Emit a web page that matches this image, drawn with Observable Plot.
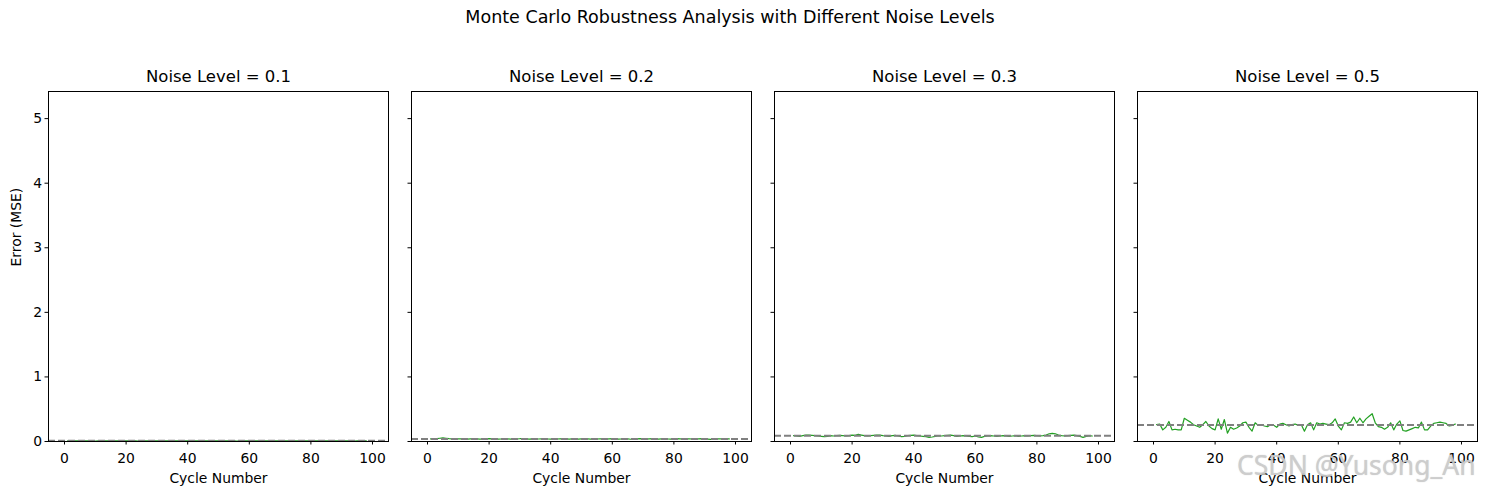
<!DOCTYPE html>
<html><head><meta charset="utf-8">
<script src="https://cdn.jsdelivr.net/npm/d3@7"></script>
<script src="https://cdn.jsdelivr.net/npm/@observablehq/plot@0.6"></script>
<style>
body{margin:0;background:#fff;font-family:"DejaVu Sans",sans-serif;}
#wrap{position:relative;width:1486px;height:495px;overflow:hidden;background:#fff;}
#sup{position:absolute;top:7px;left:0;width:1460px;text-align:center;font-size:17.5px;color:#000;}
.panel{position:absolute;top:0;}
#wm{position:absolute;left:1237px;top:452px;font-family:"Noto Sans",sans-serif;font-size:26.5px;line-height:1;color:rgba(205,205,205,0.9);text-shadow:0 0 1px rgba(150,150,150,0.5);white-space:nowrap;}
</style>
</head><body>
<div id="wrap"><div id="sup">Monte Carlo Robustness Analysis with Different Noise Levels</div></div>
<script>
const noiseLevels = ["0.1", "0.2", "0.3", "0.5"];
const cycles = [1,2,3,4,5,6,7,8,9,10,11,12,13,14,15,16,17,18,19,20,21,22,23,24,25,26,27,28,29,30,31,32,33,34,35,36,37,38,39,40,41,42,43,44,45,46,47,48,49,50,51,52,53,54,55,56,57,58,59,60,61,62,63,64,65,66,67,68,69,70,71,72,73,74,75,76,77,78,79,80,81,82,83,84,85,86,87,88,89,90,91,92,93,94,95,96,97,98];
const xTicks = [0, 20, 40, 60, 80, 100];
const yTicks = [0, 1, 2, 3, 4, 5];
const errNoise01 = [
0.010,0.011,0.009,0.010,0.012,0.010,0.009,0.011,0.010,0.008,
0.010,0.011,0.010,0.009,0.010,0.012,0.011,0.010,0.009,0.010,
0.011,0.010,0.009,0.008,0.010,0.011,0.010,0.012,0.010,0.009,
0.010,0.011,0.009,0.010,0.010,0.011,0.012,0.010,0.009,0.010,
0.008,0.010,0.011,0.010,0.009,0.010,0.011,0.010,0.012,0.010,
0.009,0.010,0.011,0.010,0.009,0.008,0.010,0.011,0.010,0.010,
0.012,0.011,0.009,0.010,0.010,0.011,0.010,0.009,0.010,0.011,
0.012,0.010,0.009,0.010,0.011,0.010,0.008,0.010,0.011,0.010,
0.009,0.010,0.012,0.011,0.010,0.009,0.010,0.011,0.010,0.009,
0.010,0.011,0.010,0.008,0.010,0.011,0.010,0.010];
const errNoise02 = [
0.040,0.042,0.045,0.050,0.055,0.050,0.044,0.040,0.038,0.040,
0.042,0.040,0.038,0.041,0.043,0.040,0.037,0.039,0.042,0.044,
0.041,0.038,0.036,0.039,0.042,0.040,0.037,0.035,0.039,0.043,
0.045,0.041,0.038,0.040,0.037,0.039,0.042,0.044,0.040,0.038,
0.036,0.039,0.041,0.043,0.040,0.038,0.041,0.039,0.037,0.040,
0.043,0.041,0.038,0.036,0.039,0.042,0.040,0.038,0.041,0.044,
0.040,0.037,0.039,0.042,0.040,0.035,0.038,0.041,0.043,0.040,
0.038,0.041,0.043,0.039,0.037,0.040,0.042,0.039,0.036,0.040,
0.043,0.041,0.038,0.040,0.042,0.039,0.037,0.041,0.043,0.039,
0.036,0.034,0.038,0.041,0.040,0.039,0.042,0.040];
const errNoise03 = [
0.09,0.085,0.08,0.09,0.10,0.10,0.095,0.09,0.085,0.08,
0.075,0.08,0.09,0.085,0.09,0.095,0.09,0.085,0.09,0.10,
0.095,0.11,0.10,0.09,0.085,0.09,0.095,0.10,0.10,0.09,
0.085,0.08,0.09,0.095,0.085,0.075,0.08,0.09,0.095,0.10,
0.09,0.085,0.08,0.075,0.065,0.07,0.08,0.09,0.085,0.09,
0.095,0.10,0.09,0.08,0.085,0.09,0.085,0.08,0.075,0.085,
0.07,0.065,0.08,0.085,0.09,0.085,0.08,0.085,0.09,0.085,
0.08,0.085,0.09,0.08,0.085,0.09,0.085,0.09,0.095,0.09,
0.085,0.09,0.10,0.12,0.125,0.12,0.10,0.09,0.085,0.09,
0.095,0.10,0.09,0.08,0.065,0.08,0.09,0.085];
const errNoise05 = [
0.26,0.27,0.18,0.22,0.31,0.18,0.19,0.18,0.18,0.36,
0.33,0.30,0.26,0.24,0.22,0.26,0.31,0.24,0.20,0.18,
0.35,0.19,0.34,0.13,0.22,0.19,0.21,0.24,0.29,0.30,
0.22,0.16,0.29,0.25,0.26,0.24,0.23,0.26,0.25,0.22,
0.27,0.28,0.26,0.24,0.26,0.27,0.25,0.26,0.16,0.26,
0.29,0.18,0.29,0.27,0.28,0.27,0.26,0.29,0.35,0.24,
0.18,0.29,0.28,0.30,0.38,0.29,0.36,0.29,0.35,0.39,
0.43,0.29,0.23,0.22,0.19,0.22,0.29,0.18,0.27,0.32,
0.17,0.16,0.18,0.20,0.22,0.21,0.30,0.18,0.18,0.24,
0.28,0.29,0.30,0.29,0.28,0.24,0.25,0.27];

const series = [errNoise01, errNoise02, errNoise03, errNoise05];
const wrap = document.getElementById("wrap");
const axesLefts = [48, 411, 774, 1137];
const mL = 50, mR = 12, frameW = 340;

series.forEach((vals, i) => {
  const data = cycles.map((c, j) => ({cycle: c, err: vals[j]}));
  const mean = d3.mean(vals);
  const marks = [
    Plot.lineY(data, {x: "cycle", y: "err", stroke: "#22a022", strokeWidth: 1.2}),
    Plot.ruleY([mean], {stroke: "#808080", strokeWidth: 2, strokeDasharray: "7,3"}),
    Plot.frame({stroke: "#000", strokeWidth: 1}),
    Plot.axisX({ticks: xTicks, tickSize: 3.5, tickPadding: 8, fontSize: 13.9, label: null}),
    Plot.axisY({ticks: yTicks, tickSize: 3.5, tickPadding: 3, fontSize: 13.9, label: null,
      tickFormat: i === 0 ? (d => String(d)) : (() => "")}),
    Plot.text([`Noise Level = ${noiseLevels[i]}`], {frameAnchor: "top", dy: -21, fontSize: 16.5, fill: "#000"}),
    Plot.text(["Cycle Number"], {frameAnchor: "bottom", dy: 41, fontSize: 13.9, fill: "#000"})
  ];
  if (i === 0) marks.push(Plot.text(["Error (MSE)"], {frameAnchor: "left", dx: -32, rotate: -90, fontSize: 13.9, fill: "#000"}));
  const p = Plot.plot({
    width: frameW + mL + mR,
    height: 495,
    marginLeft: mL, marginRight: mR, marginTop: 91, marginBottom: 54,
    x: {domain: [-5.2, 105.2]},
    y: {domain: [0, 5.42]},
    style: {fontFamily: "DejaVu Sans, sans-serif", color: "#000", background: "none", overflow: "visible"},
    marks
  });
  p.classList.add("panel");
  p.style.left = (axesLefts[i] - mL) + "px";
  wrap.appendChild(p);
});
const wm = document.createElement("div");
wm.id = "wm";
wm.textContent = "CSDN @Yusong_An";
wrap.appendChild(wm);
</script>
</body></html>
